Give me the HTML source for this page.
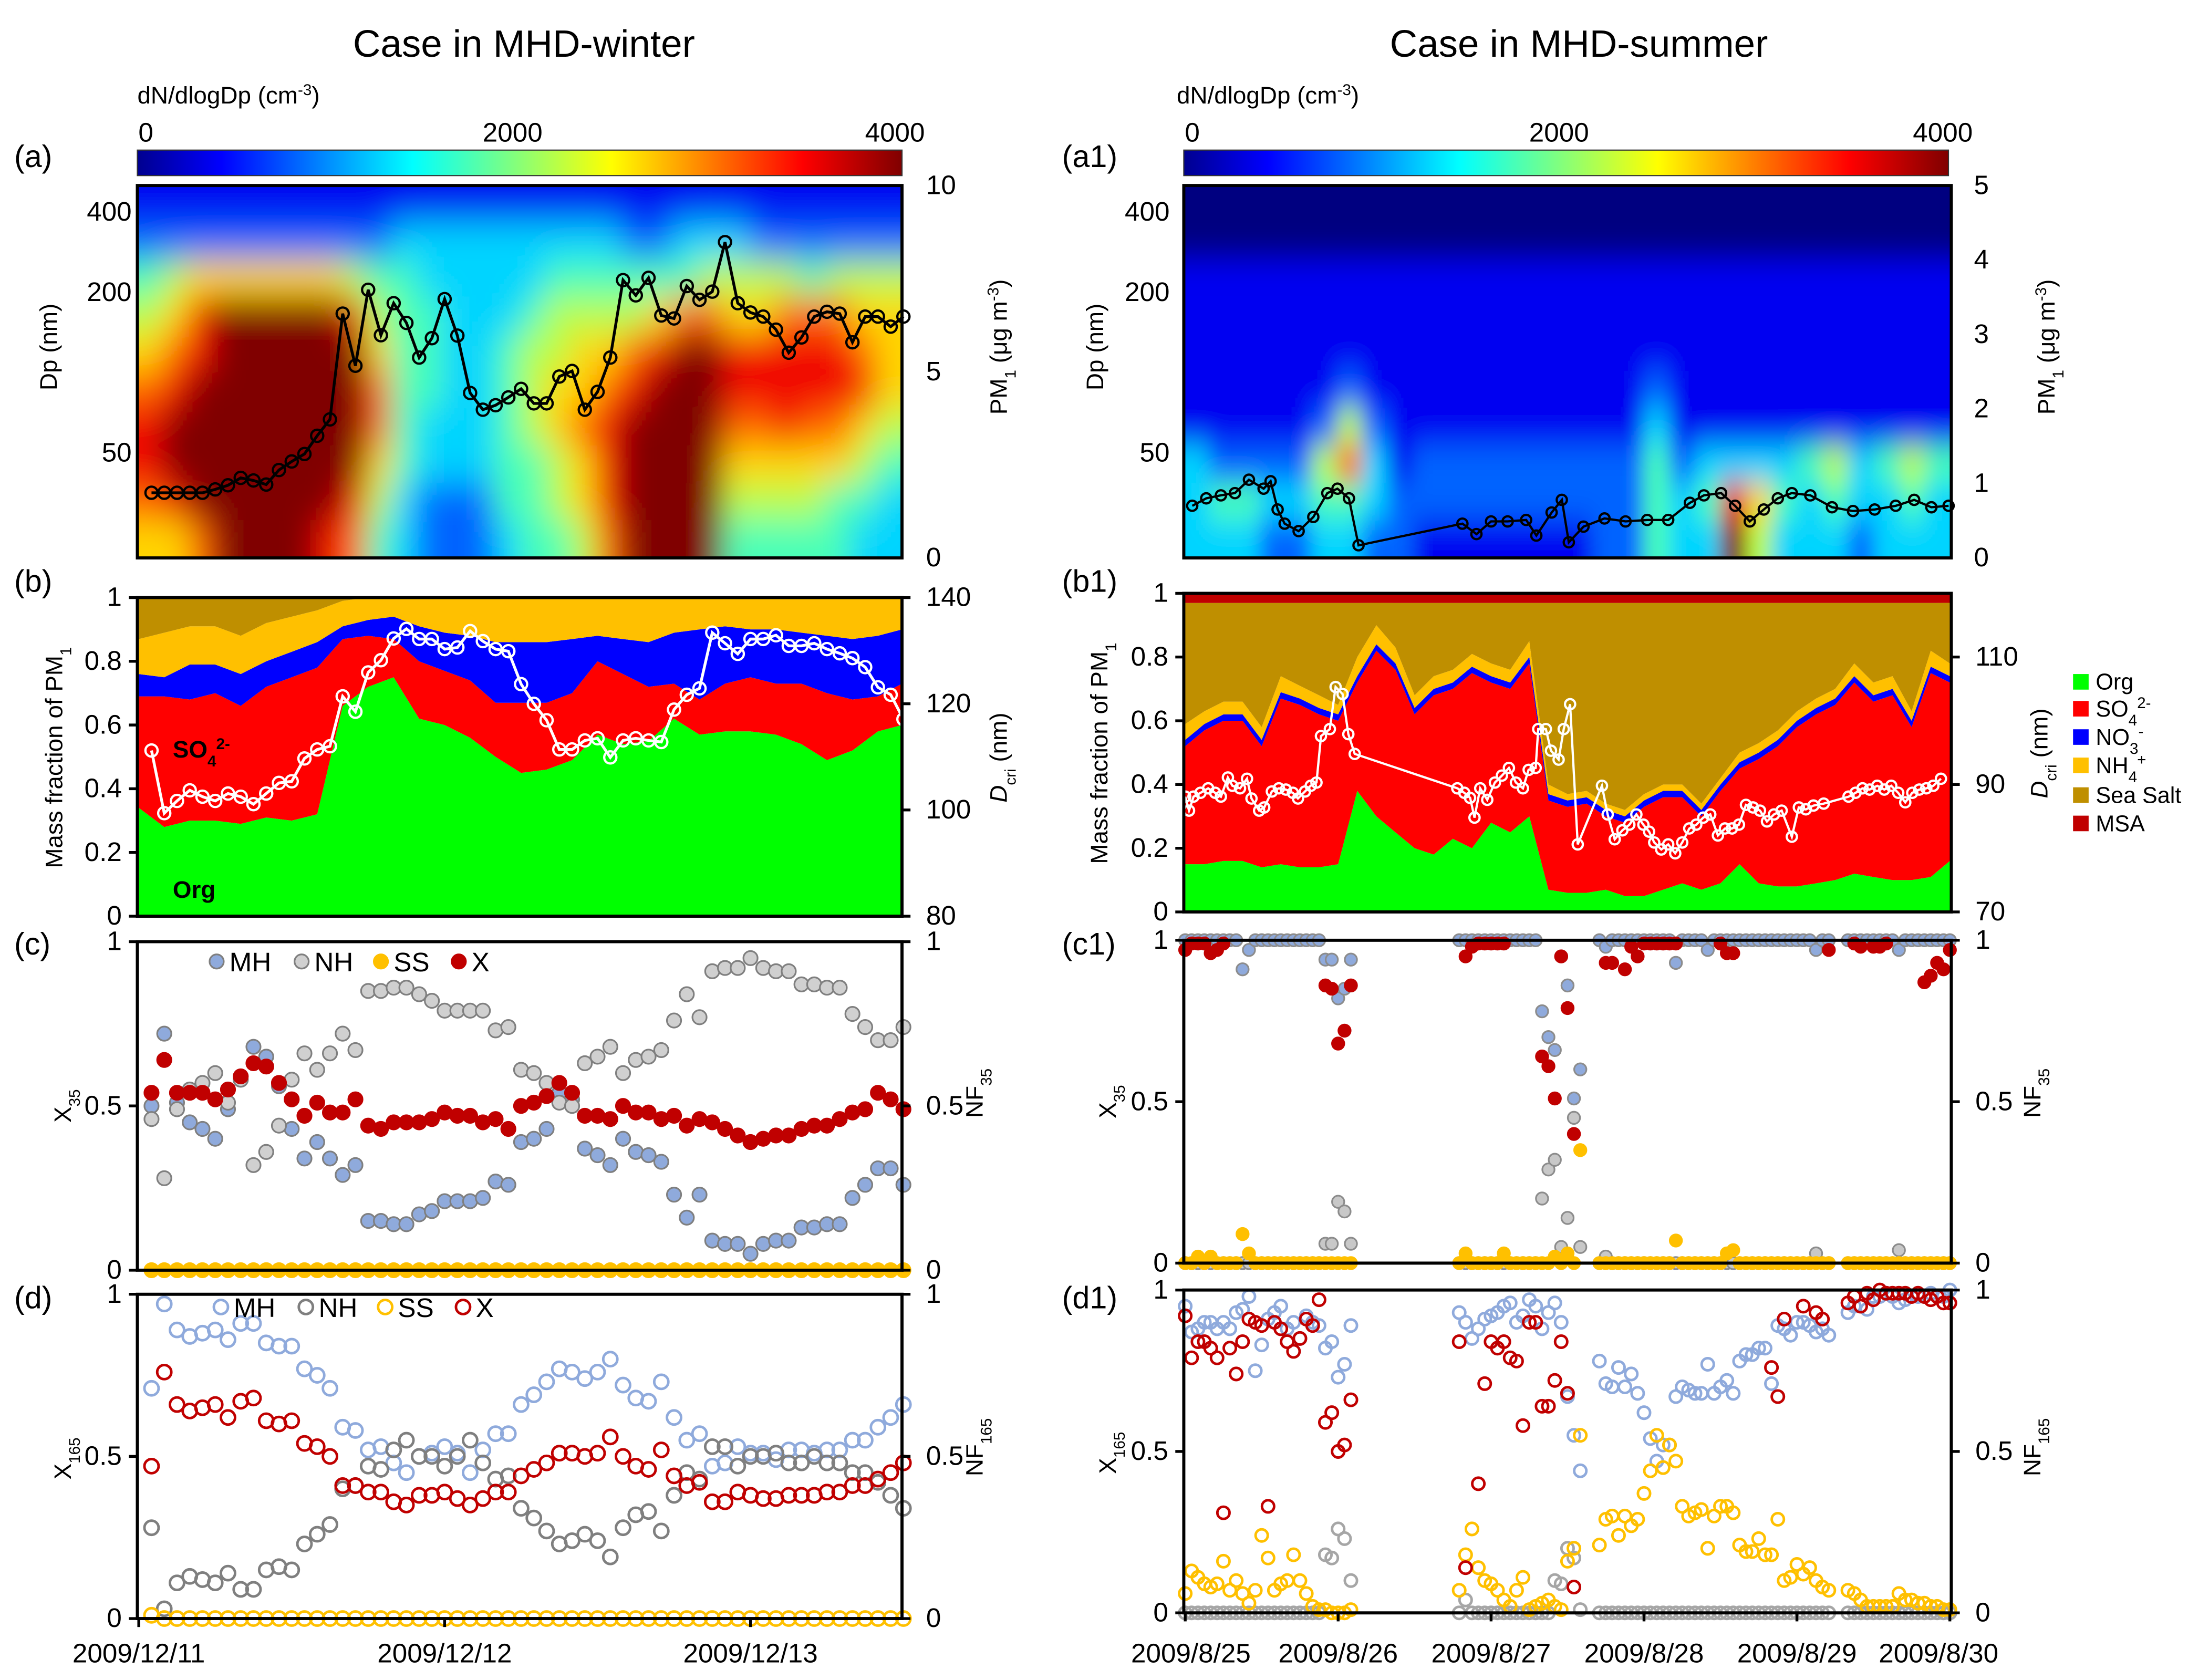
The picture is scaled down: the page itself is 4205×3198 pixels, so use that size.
<!DOCTYPE html>
<html><head><meta charset="utf-8"><style>
html,body{margin:0;padding:0;background:#fff}
svg{display:block;font-family:"Liberation Sans",Arial,sans-serif}
</style></head><body>
<svg id="chart" width="4205" height="3198" viewBox="0 0 1560 1186.4" preserveAspectRatio="none">
<defs>
<linearGradient id="jet" x1="0" x2="1" y1="0" y2="0">
<stop offset="0" stop-color="#00008f"/><stop offset="0.11" stop-color="#0000ff"/><stop offset="0.36" stop-color="#00ffff"/><stop offset="0.62" stop-color="#ffff00"/><stop offset="0.87" stop-color="#ff0000"/><stop offset="1" stop-color="#800000"/>
</linearGradient>
<filter id="blurL" x="-0.2" y="-0.2" width="1.4" height="1.4"><feGaussianBlur stdDeviation="11 13"/></filter>
<filter id="blurR" x="-0.2" y="-0.2" width="1.4" height="1.4"><feGaussianBlur stdDeviation="7 11"/></filter>
<clipPath id="clipL"><rect x="97" y="131" width="540" height="263"/></clipPath>
<clipPath id="clipR"><rect x="836" y="131" width="542" height="263"/></clipPath>
</defs>
<g font-size="27" text-anchor="middle">
<text x="370" y="40">Case in MHD-winter</text>
<text x="1115" y="40">Case in MHD-summer</text>
</g>
<g font-size="22">
<text x="10" y="118">(a)</text>
<text x="10" y="418">(b)</text>
<text x="10" y="674">(c)</text>
<text x="10" y="924">(d)</text>
<text x="750" y="118">(a1)</text>
<text x="750" y="418">(b1)</text>
<text x="750" y="674">(c1)</text>
<text x="750" y="924">(d1)</text>
</g>
<g font-size="17">
<text x="97" y="73">dN/dlogDp (cm<tspan baseline-shift="super" font-size="11">-3</tspan>)</text>
<text x="831" y="73">dN/dlogDp (cm<tspan baseline-shift="super" font-size="11">-3</tspan>)</text>
</g>
<rect x="97" y="106" width="540" height="18" fill="url(#jet)" stroke="#333" stroke-width="0.8"/>
<rect x="836" y="106" width="540" height="18" fill="url(#jet)" stroke="#333" stroke-width="0.8"/>
<g font-size="19" text-anchor="middle">
<text x="103" y="100">0</text>
<text x="362" y="100">2000</text>
<text x="632" y="100">4000</text>
<text x="842" y="100">0</text>
<text x="1101" y="100">2000</text>
<text x="1372" y="100">4000</text>
</g>
<g id="heatL" clip-path="url(#clipL)"><g id="heatLcells" filter="url(#blurL)"></g></g>
<g id="heatR" clip-path="url(#clipR)"><g id="heatRcells" filter="url(#blurR)"></g></g>
<g id="plots"></g>
<g font-size="17" text-anchor="middle">
<text transform="translate(40,245) rotate(-90)">Dp (nm)</text>
<text transform="translate(779,245) rotate(-90)">Dp (nm)</text>
<text transform="translate(711,245) rotate(-90)">PM<tspan baseline-shift="sub" font-size="11">1</tspan> (μg m<tspan baseline-shift="super" font-size="11">-3</tspan>)</text>
<text transform="translate(1451,245) rotate(-90)">PM<tspan baseline-shift="sub" font-size="11">1</tspan> (μg m<tspan baseline-shift="super" font-size="11">-3</tspan>)</text>
<text transform="translate(44,535) rotate(-90)">Mass fraction of PM<tspan baseline-shift="sub" font-size="11">1</tspan></text>
<text transform="translate(782,532) rotate(-90)">Mass fraction of PM<tspan baseline-shift="sub" font-size="11">1</tspan></text>
<text transform="translate(711,535) rotate(-90)"><tspan font-style="italic">D</tspan><tspan baseline-shift="sub" font-size="11">cri</tspan> (nm)</text>
<text transform="translate(1446,532) rotate(-90)"><tspan font-style="italic">D</tspan><tspan baseline-shift="sub" font-size="11">cri</tspan> (nm)</text>
<text transform="translate(50,781) rotate(-90)">X<tspan baseline-shift="sub" font-size="11">35</tspan></text>
<text transform="translate(788,778) rotate(-90)">X<tspan baseline-shift="sub" font-size="11">35</tspan></text>
<text transform="translate(50,1030) rotate(-90)">X<tspan baseline-shift="sub" font-size="11">165</tspan></text>
<text transform="translate(788,1026) rotate(-90)">X<tspan baseline-shift="sub" font-size="11">165</tspan></text>
<text transform="translate(694,772) rotate(-90)">NF<tspan baseline-shift="sub" font-size="11">35</tspan></text>
<text transform="translate(1441,772) rotate(-90)">NF<tspan baseline-shift="sub" font-size="11">35</tspan></text>
<text transform="translate(694,1022) rotate(-90)">NF<tspan baseline-shift="sub" font-size="11">165</tspan></text>
<text transform="translate(1441,1022) rotate(-90)">NF<tspan baseline-shift="sub" font-size="11">165</tspan></text>
</g>
<g font-size="17" font-weight="bold">
<text x="122" y="535">SO<tspan baseline-shift="sub" font-size="11">4</tspan><tspan baseline-shift="super" font-size="11">2-</tspan></text>
<text x="122" y="634">Org</text>
</g>
<g id="legendB1" font-size="16"></g>
</svg>
<script>
// ===== data =====
const leftHeatRows = [
"111111111111111111111111111111",
"222222222233333333322333222222",
"456666665443333344444455554555",
"568999998544333455556776677766",
"678999999644334556678998888876",
"789999999744334566789998888886",
"899999999743334567899997787765",
"899999999643334456899996666654",
"789999998532224456899995555443",
"667999987432223445799994444433"];
const rightHeatRows = [
"000000000000000000000000000000",
"000000000000000000000000000000",
"111111111111111111111111111111",
"111111111111111111111111111111",
"111111111111111111111111111111",
"111111211111111111211111111111",
"111112521111111111311111111111",
"322225731222222222423333453454",
"344334432222222222434864343343",
"333223322111111122433953332333"];

const leftPM1 = [1.75,1.75,1.75,1.75,1.75,1.84,1.95,2.15,2.08,1.97,2.36,2.59,2.79,3.28,3.72,6.56,5.16,7.2,5.98,6.84,6.31,5.38,5.9,6.95,5.97,4.43,3.98,4.1,4.31,4.54,4.15,4.15,4.87,5.02,3.98,4.46,5.38,7.46,7.05,7.52,6.51,6.43,7.3,6.93,7.15,8.48,6.84,6.59,6.48,6.13,5.51,5.92,6.48,6.61,6.56,5.79,6.48,6.48,6.21,6.48];
const leftDcri = [111.2,99.4,101.7,103.7,102.5,101.7,103.1,102.5,101.1,103.1,105.1,105.4,109.7,111.4,112,121.4,118.5,125.9,128.2,132.3,134.1,132.2,132.2,130.3,130.6,133.7,131.8,130.3,129.9,123.7,120,116.9,111.4,111.4,113.1,113.5,109.9,113.1,113.5,113.1,112.8,118.9,121.7,122.9,133.4,131.4,129.4,132.2,132.2,132.9,130.9,130.9,131.4,130.3,129.5,128.6,126.9,123.1,121.7,117.1];

const leftMH35 = [0.50,0.72,0.51,0.45,0.43,0.40,0.49,0.58,0.68,0.65,0.56,0.43,0.34,0.39,0.34,0.29,0.32,0.15,0.15,0.14,0.14,0.17,0.18,0.21,0.21,0.21,0.22,0.27,0.26,0.39,0.40,0.43,0.54,0.52,0.37,0.35,0.32,0.40,0.36,0.35,0.33,0.23,0.16,0.23,0.09,0.08,0.08,0.05,0.08,0.09,0.09,0.13,0.13,0.14,0.14,0.22,0.26,0.31,0.31,0.26];
const leftNH35 = [0.46,0.28,0.49,0.55,0.57,0.60,0.51,0.58,0.32,0.36,0.44,0.58,0.66,0.61,0.66,0.72,0.67,0.85,0.85,0.86,0.86,0.84,0.82,0.79,0.79,0.79,0.79,0.73,0.74,0.61,0.60,0.57,0.51,0.50,0.63,0.65,0.68,0.60,0.64,0.65,0.67,0.76,0.84,0.77,0.91,0.92,0.92,0.95,0.92,0.91,0.91,0.87,0.87,0.86,0.86,0.78,0.74,0.70,0.70,0.74];
const leftSS35 = [0,0,0,0,0,0,0,0,0,0,0,0,0,0,0,0,0,0,0,0,0,0,0,0,0,0,0,0,0,0,0,0,0,0,0,0,0,0,0,0,0,0,0,0,0,0,0,0,0,0,0,0,0,0,0,0,0,0,0,0];
const leftX35 = [0.54,0.64,0.54,0.54,0.54,0.52,0.55,0.59,0.63,0.62,0.57,0.52,0.47,0.51,0.48,0.48,0.52,0.44,0.43,0.45,0.45,0.45,0.46,0.48,0.47,0.47,0.45,0.46,0.43,0.50,0.51,0.53,0.57,0.54,0.47,0.47,0.46,0.50,0.48,0.48,0.46,0.47,0.44,0.46,0.45,0.43,0.41,0.39,0.40,0.41,0.41,0.43,0.44,0.44,0.46,0.48,0.49,0.54,0.52,0.49];

const leftMH165 = [0.71,0.97,0.89,0.87,0.88,0.89,0.86,0.91,0.91,0.85,0.84,0.84,0.77,0.75,0.71,0.59,0.58,0.52,0.53,0.48,0.45,0.50,0.51,0.53,0.51,0.45,0.52,0.57,0.57,0.66,0.69,0.73,0.77,0.76,0.74,0.76,0.80,0.72,0.68,0.67,0.73,0.62,0.55,0.57,0.47,0.48,0.53,0.51,0.51,0.49,0.52,0.52,0.51,0.52,0.52,0.55,0.55,0.59,0.62,0.66];
const leftNH165 = [0.28,0.03,0.11,0.13,0.12,0.11,0.14,0.09,0.09,0.15,0.16,0.15,0.23,0.26,0.29,0.40,0.41,0.47,0.46,0.52,0.55,0.50,0.50,0.47,0.50,0.55,0.48,0.43,0.44,0.34,0.31,0.27,0.23,0.24,0.26,0.24,0.19,0.28,0.32,0.33,0.27,0.38,0.45,0.43,0.53,0.53,0.47,0.50,0.50,0.51,0.48,0.48,0.50,0.48,0.48,0.45,0.45,0.42,0.38,0.34];
const leftSS165 = [0.01,0,0,0,0,0,0,0,0,0,0,0,0,0,0,0,0,0,0,0,0,0,0,0,0,0,0,0,0,0,0,0,0,0,0,0,0,0,0,0,0,0,0,0,0,0,0,0,0,0,0,0,0,0,0,0,0,0,0,0];
const leftX165 = [0.47,0.76,0.66,0.64,0.65,0.66,0.62,0.67,0.68,0.61,0.60,0.61,0.54,0.53,0.50,0.41,0.41,0.39,0.39,0.36,0.35,0.38,0.38,0.39,0.37,0.35,0.37,0.39,0.39,0.44,0.46,0.48,0.51,0.51,0.50,0.51,0.56,0.50,0.47,0.46,0.52,0.44,0.41,0.42,0.36,0.36,0.39,0.38,0.37,0.37,0.38,0.38,0.38,0.39,0.39,0.41,0.41,0.43,0.45,0.48];

const leftOrg = [.34,.28,.30,.30,.29,.31,.30,.32,.66,.72,.75,.62,.60,.56,.50,.45,.46,.49,.57,.54,.55,.62,.57,.58,.58,.57,.54,.49,.52,.58,.60];
const leftSO4 = [.35,.41,.38,.40,.37,.41,.45,.46,.21,.16,.12,.18,.17,.18,.17,.22,.21,.21,.23,.22,.17,.11,.11,.15,.17,.16,.19,.21,.16,.11,.13];
const leftNO3 = [.07,.06,.11,.09,.10,.08,.08,.08,.04,.05,.07,.11,.12,.14,.19,.19,.19,.17,.08,.11,.14,.16,.22,.18,.15,.17,.16,.18,.19,.19,.17];
const leftNH4 = [.11,.14,.12,.12,.12,.12,.11,.10,.08,.07,.06,.09,.11,.12,.14,.14,.14,.13,.12,.13,.14,.11,.10,.09,.10,.10,.11,.12,.13,.12,.10];
const leftSeaSalt = [.13,.11,.09,.09,.12,.08,.06,.04,.01,0,0,0,0,0,0,0,0,0,0,0,0,0,0,0,0,0,0,0,0,0,0];
const leftMSA = [0,0,0,0,0,0,0,0,0,0,0,0,0,0,0,0,0,0,0,0,0,0,0,0,0,0,0,0,0,0,0];

const rightOrg = [.15,.15,.16,.16,.14,.15,.14,.14,.15,.38,.30,.25,.20,.18,.23,.20,.28,.25,.30,.07,.06,.06,.07,.05,.05,.07,.09,.07,.09,.15,.09,.08,.08,.09,.10,.12,.11,.10,.10,.11,.16];
const rightSO4 = [.37,.42,.44,.44,.38,.52,.51,.48,.45,.34,.52,.51,.42,.50,.47,.55,.44,.45,.48,.28,.27,.28,.23,.23,.28,.29,.27,.23,.29,.30,.39,.44,.50,.53,.55,.60,.55,.58,.48,.64,.56];
const rightNO3 = [.02,.02,.02,.02,.02,.02,.02,.02,.02,.02,.02,.02,.02,.02,.02,.02,.02,.02,.02,.02,.02,.02,.02,.02,.02,.02,.02,.02,.02,.02,.02,.02,.02,.02,.02,.02,.02,.02,.02,.02,.02];
const rightNH4 = [.05,.04,.04,.04,.04,.05,.04,.04,.03,.06,.06,.05,.04,.04,.04,.04,.04,.04,.05,.03,.02,.02,.02,.02,.02,.02,.02,.02,.02,.03,.03,.03,.03,.03,.03,.04,.04,.04,.03,.05,.04];
const rightSeaSalt = [.38,.34,.31,.31,.39,.23,.26,.29,.32,.17,.07,.14,.29,.23,.21,.16,.19,.21,.12,.57,.60,.59,.63,.65,.60,.57,.57,.63,.55,.47,.44,.40,.34,.30,.27,.19,.25,.23,.34,.15,.19];
const rightMSA = [.03,.03,.03,.03,.03,.03,.03,.03,.03,.03,.03,.03,.03,.03,.03,.03,.03,.03,.03,.03,.03,.03,.03,.03,.03,.03,.03,.03,.03,.03,.03,.03,.03,.03,.03,.03,.03,.03,.03,.03,.03];

const rightPM1Hours = [1.1,3.3,5.6,7.8,10.0,12.3,13.4,14.5,15.6,17.8,20.1,22.3,23.9,25.7,27.2,43.5,45.7,48.0,50.6,53.5,55.1,57.5,59.1,60.2,62.5,65.8,69.1,72.5,75.8,79.2,81.4,84.1,86.3,88.6,90.8,93.0,95.2,98.1,101.5,104.8,108.2,111.5,114.4,117.1,119.8];
const rightPM1 = [0.70,0.80,0.84,0.87,1.05,0.93,1.03,0.65,0.46,0.36,0.55,0.87,0.93,0.80,0.17,0.46,0.32,0.49,0.49,0.51,0.30,0.61,0.78,0.21,0.42,0.53,0.49,0.51,0.51,0.74,0.84,0.87,0.70,0.49,0.65,0.80,0.87,0.84,0.68,0.63,0.65,0.70,0.78,0.68,0.70];

const rightDcriHours = [0,0.6,1.3,2.4,3.6,4.7,5.6,6.7,7.4,8.6,9.7,10.4,11.6,12.4,13.6,14.7,15.8,16.9,17.7,18.8,19.7,20.6,21.3,22.7,23.6,24.7,25.6,26.6,42.7,43.8,44.7,45.4,46.3,47.4,48.6,49.7,50.8,51.9,53.0,53.9,55.0,55.4,56.6,57.4,58.6,59.4,60.4,61.6,65.4,66.3,67.4,68.6,69.7,70.8,71.9,72.8,73.6,74.7,75.8,76.9,78.0,79.1,80.2,81.3,82.4,83.6,84.7,85.8,86.9,88.0,89.1,90.2,91.3,92.4,93.6,95.2,96.3,97.4,98.6,100.2,104.1,105.2,106.3,107.4,108.6,109.7,110.8,111.9,113.0,114.1,115.2,116.3,117.4,118.6];
const rightDcri = [88.1,85.9,88.1,88.7,89.4,88.7,88.1,91.1,89.8,89.4,90.9,87.8,85.9,86.4,88.9,89.4,89.2,88.7,87.8,88.9,89.8,90.3,97.6,98.7,105.3,104.2,97.9,94.8,89.4,88.7,87.9,84.8,89.4,87.6,90.3,91.4,92.6,90.3,89.4,92.3,92.6,98.7,98.7,95.3,93.9,98.7,102.6,80.6,89.8,85.3,81.4,82.8,83.7,85.3,83.7,82.6,80.9,79.8,80.6,79.2,80.9,83.1,83.7,84.8,85.3,82.0,83.1,83.1,83.7,86.8,86.4,85.9,84.2,85.3,85.9,81.8,86.4,86.1,86.7,87.0,88.1,88.7,89.4,89.2,89.8,89.2,89.8,88.7,87.2,88.7,89.2,89.4,89.8,90.9];

const rightSegments = [[0,26],[43,62],[65,101],[104,120]];
const N = null;
const rightMH35 = [1,1,1,1,1,1,1,1,1,.91,.97,1,1,1,1,1,1,1,1,1,1,1,.94,.94,.82,.85,.94,
 1,1,1,1,1,1,1,1,1,1,1,1,1,.78,.70,.66,.95,.86,.51,.60,
 1,.98,1,1,1,1,1,1,1,1,1,1,.93,1,1,1,1,.97,1,1,1,1,1,1,1,1,1,1,1,1,1,1,1,1,.97,1,1,
 1,1,1,1,1,1,1,1,.97,1,1,1,1,1,1,1,1];
const rightNH35 = [0,0,0,0,0,0,0,0,0,0,0,0,0,0,0,0,0,0,0,0,0,0,.06,.06,.19,.16,.06,
 0,0,0,0,0,0,0,0,0,0,0,0,0,.20,.29,.32,.05,.14,.45,.05,
 0,.02,0,0,0,0,0,0,0,0,0,0,0,0,0,0,0,0,0,0,0,0,0,0,0,0,0,0,0,0,0,0,0,0,.03,0,0,
 0,0,0,0,0,0,0,0,.04,0,0,0,0,0,0,0,0];
const rightSS35 = [0,0,.02,0,.02,0,0,0,0,.09,.03,0,0,0,0,0,0,0,0,0,0,0,0,0,0,0,0,
 0,.03,0,0,0,0,0,.03,0,0,0,0,0,0,0,.02,0,.03,0,.35,
 0,0,0,0,0,0,0,0,0,0,0,0,.07,0,0,0,0,0,0,0,.03,.04,0,0,0,0,0,0,0,0,0,0,0,0,0,0,0,
 0,0,0,0,0,0,0,0,0,0,0,0,0,0,0,0,0];
const rightX35 = [.97,.99,.99,.99,.96,.97,.99,N,N,N,N,N,N,N,N,N,N,N,N,N,N,N,.86,.85,.68,.72,.86,
 N,.95,.98,.99,.99,.99,.99,.99,N,N,N,N,N,.64,.61,.51,.95,.79,.40,N,
 N,.93,.93,N,.91,.98,.95,.99,.99,.99,.99,.99,.99,N,N,N,N,N,N,.99,.96,.96,N,N,N,N,N,N,N,N,N,N,N,N,N,N,.97,
 N,.99,.98,N,.98,.98,.99,N,N,N,N,N,.87,.89,.93,.91,.97];

const rightMH165 = [.95,.87,.88,.90,.90,.88,.90,.88,.93,.94,.98,.75,.83,.91,.93,.95,.88,.90,.85,.92,.90,.89,.82,.84,.73,.77,.89,
 .93,.90,.85,.88,.91,.92,.93,.95,.96,.90,.92,.97,.95,.88,.93,.96,.90,.67,.55,.44,
 .78,.71,.70,.76,.70,.74,.68,.62,.54,.47,.52,.52,.67,.70,.69,.68,.68,.77,.68,.70,.72,.68,.78,.80,.80,.82,.82,.71,.89,.88,.86,.90,.90,.89,.87,.88,.86,
 .93,.95,.95,.94,.98,.98,.99,.98,.96,.97,.98,.98,.98,.99,.98,.98,1.0];
const rightNH165 = [0,0,0,0,0,0,0,0,0,0,0,0,0,0,0,0,0,0,0,0,0,0,.18,.17,.26,.23,.10,
 0,.04,0,0,0,0,0,0,0,0,0,0,0,0,0,.10,.09,.20,.17,.01,
 0,0,0,0,0,0,0,0,0,0,0,0,0,0,0,0,0,0,0,0,0,0,0,0,0,0,0,0,0,0,0,0,0,0,0,0,0,
 0,0,0,0,0,0,0,0,0,0,0,0,0,0,0,0,0];
const rightSS165 = [.06,.13,.11,.09,.08,.09,.16,.07,.10,.06,.03,.07,.24,.17,.07,.09,.10,.18,.10,.06,.02,.01,.01,0,0,0,.01,
 .07,.18,.26,.14,.10,.09,.07,.04,.02,.07,.11,.01,.02,.03,.04,.02,.01,.16,.20,.55,
 .21,.29,.30,.24,.30,.27,.29,.37,.44,.55,.45,.52,.47,.33,.30,.31,.32,.20,.30,.33,.33,.31,.21,.19,.19,.23,.18,.18,.29,.10,.11,.15,.12,.14,.10,.08,.07,
 .07,.06,.04,.02,.02,.02,.02,.02,.06,.04,.04,.03,.03,.02,.02,.01,.01];
const rightX165 = [.92,.79,.84,.84,.82,.79,.31,.82,.74,.84,.91,.90,.89,.33,.90,.88,.84,.81,.85,.91,.89,.97,.59,.62,.50,.52,.66,
 .84,.14,N,.40,.71,.84,.82,.84,.79,.78,.58,.90,.90,.64,.64,.72,.84,.68,.08,N,
 N,N,N,N,N,N,N,N,N,N,N,N,N,N,N,N,N,N,N,N,N,N,N,N,N,N,N,.76,.67,.91,N,N,.95,N,.93,.91,N,
 .96,.98,.95,.99,.97,1,.99,.99,.99,.99,.98,.99,.98,.97,.98,.96,.96];

const legendNames = ["Org","SO4","NO3","NH4","Sea Salt","MSA"];
const legendColors = ["#00ff00","#ff0000","#0000ff","#ffc000","#bf8f00","#c00000"];

// ===== drawing =====
const NS = 'http://www.w3.org/2000/svg';
const svg = document.getElementById('chart');
const plots = document.getElementById('plots');
function mk(tag, attrs, parent){ const e=document.createElementNS(NS,tag); for(const k in attrs) e.setAttribute(k, attrs[k]); (parent||plots).appendChild(e); return e; }
function jet(v){ const c=x=>Math.round(255*Math.max(0,Math.min(1,x))); return 'rgb('+c(1.5-Math.abs(4*v-3))+','+c(1.5-Math.abs(4*v-2))+','+c(1.5-Math.abs(4*v-1))+')'; }

const LX0=97, LX1=637, RX0=836, RX1=1378;
const xL = h => 98 + 9.0*h;
const xR = h => 837 + 4.5*h;
const lin = (v0,v1,p0,p1) => v => p0 + (v - v0)/(v1 - v0)*(p1 - p0);
const L = {pm:lin(0,10,394,131), fr:lin(0,1,647,422), dc:lin(80,140,647,422), c:lin(0,1,897,665), d:lin(0,1,1143,914)};
const R = {pm:lin(0,5,394,131), fr:lin(0,1,644,419), dc:lin(70,120,644,419), c:lin(0,1,892,664), d:lin(0,1,1139,911)};

function heat(rows, parentId, x0, w, name){
  const g=document.getElementById(parentId);
  const nr=rows.length, rh=263/nr, pad=40;
  rows.forEach((row,r)=>{
    const s=row.padEnd(30,row[row.length-1]).slice(0,30);
    for(let c=0;c<30;c++){
      let x=x0+c*w-0.5, y=131+r*rh-0.5, ww=w+1, hh=rh+1;
      if(c===0){x-=pad; ww+=pad;}
      if(c===29){ww+=pad;}
      if(r===0){y-=pad; hh+=pad;}
      if(r===nr-1){hh+=pad;}
      const cell=mk('rect',{x:x,y:y,width:ww,height:hh,fill:jet(+s[c]/9)},g);
      
      
    }
  });
}
heat(leftHeatRows,'heatLcells',LX0,18,'heatmap-winter');
heat(rightHeatRows,'heatRcells',RX0,542/30,'heatmap-summer');

function frame(x0,y0,x1,y1,name){ const f=mk('rect',{x:x0,y:y0,width:x1-x0,height:y1-y0,fill:'none',stroke:'#000','stroke-width':2.2});   }
function ticks(xAxis, side, vals, scale, labels, name){
  vals.forEach((v,i)=>{
    const y=scale(v);
    const t=mk('line',{x1:xAxis,x2:xAxis+(side<0?-6:6),y1:y,y2:y,stroke:'#000','stroke-width':2});
    
    
    const tx=mk('text',{x:side<0?xAxis-11:xAxis+17,y:y+6,'font-size':19,'text-anchor':side<0?'end':'start'});
    tx.textContent=labels[i];
    
    
  });
}
function textAt(x,y,s,anchor,name,size){ const t=mk('text',{x:x,y:y,'font-size':size||19,'text-anchor':anchor}); t.textContent=s;   return t; }

const dpY = d => 320 - Math.log2(d/50)*56.7;
[[400,'400'],[200,'200'],[50,'50']].forEach(p=>textAt(93,dpY(p[0])+6,p[1],'end','dp-tick-label'));
[[400,'400'],[200,'200'],[50,'50']].forEach(p=>textAt(826,dpY(p[0])+6,p[1],'end','dp-tick-label-right'));
[0,5,10].forEach(v=>textAt(654,L.pm(v)+6,String(v),'start','pm1-tick-label'));
[0,1,2,3,4,5].forEach(v=>textAt(1394,R.pm(v)+6,String(v),'start','pm1-tick-label-right'));

function stack(series, hoursStep, xf, yf, names, colors, prefix){
  const n=series[0].length; let base=new Array(n).fill(0);
  series.forEach((s,k)=>{
    const top=base.map((b,i)=>b+s[i]);
    let pts=[];
    for(let i=0;i<n;i++) pts.push(xf(i*hoursStep).toFixed(1)+','+yf(Math.min(1,top[i])).toFixed(1));
    for(let i=n-1;i>=0;i--) pts.push(xf(i*hoursStep).toFixed(1)+','+yf(Math.min(1,base[i])).toFixed(1));
    const p=mk('polygon',{points:pts.join(' '),fill:colors[k]});
    
    
    base=top;
  });
}
stack([leftOrg,leftSO4,leftNO3,leftNH4,leftSeaSalt,leftMSA],2,h=>Math.min(LX1,Math.max(LX0,xL(h))),L.fr,legendNames,legendColors,'winter');
stack([rightOrg,rightSO4,rightNO3,rightNH4,rightSeaSalt,rightMSA],3,h=>Math.min(RX1,Math.max(RX0,xR(h))),R.fr,legendNames,legendColors,'summer');

function lineMarkers(hours, vals, xf, yf, color, name, r, sw){
  const pts=hours.map((h,i)=>xf(h).toFixed(1)+','+yf(vals[i]).toFixed(1)).join(' ');
  const pl=mk('polyline',{points:pts,fill:'none',stroke:color,'stroke-width':sw});
  
  
  hours.forEach((h,i)=>{
    const c=mk('circle',{cx:xf(h),cy:yf(vals[i]),r:r,fill:'none',stroke:color,'stroke-width':1.6});
    
    
  });
}
const leftHours = leftPM1.map((v,i)=>i+1);
lineMarkers(leftHours,leftPM1,xL,L.pm,'#000','pm1-winter',4.3,2);
lineMarkers(leftHours,leftDcri,xL,L.dc,'#fff','dcri-winter',4.3,2);
lineMarkers(rightPM1Hours,rightPM1,xR,R.pm,'#000','pm1-summer',3.6,1.6);
lineMarkers(rightDcriHours,rightDcri,xR,R.dc,'#fff','dcri-summer',3.6,1.6);

function scatter(hours, vals, xf, yf, fill, stroke, r, name){
  hours.forEach((h,i)=>{
    if(vals[i]===null) return;
    const c=mk('circle',{cx:xf(h),cy:yf(vals[i]),r:r,fill:fill,stroke:stroke,'stroke-width':fill==='none'?1.8:1.2});
    
    
  });
}
const rightHours=[]; rightSegments.forEach(s=>{for(let h=s[0];h<=s[1];h++) rightHours.push(h);});
scatter(leftHours,leftMH35,xL,L.c,'#8faadc','#7f7f7f',5,'mh35-winter');
scatter(leftHours,leftNH35,xL,L.c,'#d0d0d0','#7f7f7f',5,'nh35-winter');
scatter(leftHours,leftSS35,xL,L.c,'#ffc000','#ffc000',5,'ss35-winter');
scatter(leftHours,leftX35,xL,L.c,'#c00000','#c00000',5,'x35-winter');
scatter(leftHours,leftMH165,xL,L.d,'none','#8faadc',5,'mh165-winter');
scatter(leftHours,leftNH165,xL,L.d,'none','#7f7f7f',5,'nh165-winter');
scatter(leftHours,leftSS165,xL,L.d,'none','#ffc000',5,'ss165-winter');
scatter(leftHours,leftX165,xL,L.d,'none','#c00000',5,'x165-winter');
scatter(rightHours,rightMH35,xR,R.c,'#8faadc','#8c8c8c',4.3,'mh35-summer');
scatter(rightHours,rightNH35,xR,R.c,'#c8c8c8','#8c8c8c',4.3,'nh35-summer');
scatter(rightHours,rightSS35,xR,R.c,'#ffc000','#ffc000',4.3,'ss35-summer');
scatter(rightHours,rightX35,xR,R.c,'#c00000','#c00000',4.3,'x35-summer');
scatter(rightHours,rightNH165,xR,R.d,'none','#a6a6a6',4.3,'nh165-summer');
scatter(rightHours,rightMH165,xR,R.d,'none','#8faadc',4.3,'mh165-summer');
scatter(rightHours,rightSS165,xR,R.d,'none','#ffc000',4.3,'ss165-summer');
scatter(rightHours,rightX165,xR,R.d,'none','#c00000',4.3,'x165-summer');

frame(LX0,131,LX1,394,'heatmap-winter-frame');
frame(RX0,131,RX1,394,'heatmap-summer-frame');
frame(LX0,422,LX1,647,'fraction-winter-frame');
frame(RX0,419,RX1,644,'fraction-summer-frame');
frame(LX0,665,LX1,897,'x35-winter-frame');
frame(RX0,664,RX1,892,'x35-summer-frame');
frame(LX0,914,LX1,1143,'x165-winter-frame');
frame(RX0,911,RX1,1139,'x165-summer-frame');

ticks(LX0,-1,[0,.2,.4,.6,.8,1],L.fr,['0','0.2','0.4','0.6','0.8','1'],'fraction-y');
ticks(LX1,1,[80,100,120,140],L.dc,['80','100','120','140'],'dcri-y');
ticks(RX0,-1,[0,.2,.4,.6,.8,1],R.fr,['0','0.2','0.4','0.6','0.8','1'],'fraction-y-right');
ticks(RX1,1,[70,90,110],R.dc,['70','90','110'],'dcri-y-right');
ticks(LX0,-1,[0,.5,1],L.c,['0','0.5','1'],'x35-y');
ticks(LX1,1,[0,.5,1],L.c,['0','0.5','1'],'nf35-y');
ticks(RX0,-1,[0,.5,1],R.c,['0','0.5','1'],'x35-y-right');
ticks(RX1,1,[0,.5,1],R.c,['0','0.5','1'],'nf35-y-right');
ticks(LX0,-1,[0,.5,1],L.d,['0','0.5','1'],'x165-y');
ticks(LX1,1,[0,.5,1],L.d,['0','0.5','1'],'nf165-y');
ticks(RX0,-1,[0,.5,1],R.d,['0','0.5','1'],'x165-y-right');
ticks(RX1,1,[0,.5,1],R.d,['0','0.5','1'],'nf165-y-right');

const leftDates=['2009/12/11','2009/12/12','2009/12/13'];
leftDates.forEach((d,i)=>{ const x=xL(24*i); const t=mk('line',{x1:x,x2:x,y1:1143,y2:1149,stroke:'#000','stroke-width':2});   textAt(x,1174,d,'middle','date-label'); });
const rightDates=['2009/8/25','2009/8/26','2009/8/27','2009/8/28','2009/8/29','2009/8/30'];
rightDates.forEach((d,i)=>{ const x=xR(24*i); const t=mk('line',{x1:x,x2:x,y1:1139,y2:1145,stroke:'#000','stroke-width':2});   textAt(x+(i===0?4:(i===5?-8:0)),1174,d,'middle','date-label-right'); });

const legNames=['MH','NH','SS','X'];
const legFill=['#8faadc','#d0d0d0','#ffc000','#c00000'];
const legStrokeC=['#7f7f7f','#7f7f7f','#ffc000','#c00000'];
const legStrokeD=['#8faadc','#7f7f7f','#ffc000','#c00000'];
const legX=[153,213,269,324];
legNames.forEach((n,i)=>{
  const c=mk('circle',{cx:legX[i],cy:679,r:5,fill:legFill[i],stroke:legStrokeC[i],'stroke-width':1.2});
  
  
  textAt(legX[i]+9,686,n,'start','legend-label-c-'+n.toLowerCase(),19);
  const d=mk('circle',{cx:legX[i]+3,cy:923,r:5,fill:'none',stroke:legStrokeD[i],'stroke-width':1.8});
  
  
  textAt(legX[i]+12,930,n,'start','legend-label-d-'+n.toLowerCase(),19);
});

const lg=document.getElementById('legendB1');
const legY=[486,505,525,545,566,586];
const legHTML=['Org','SO<tspan baseline-shift="sub" font-size="11">4</tspan><tspan baseline-shift="super" font-size="11">2-</tspan>','NO<tspan baseline-shift="sub" font-size="11">3</tspan><tspan baseline-shift="super" font-size="11">-</tspan>','NH<tspan baseline-shift="sub" font-size="11">4</tspan><tspan baseline-shift="super" font-size="11">+</tspan>','Sea Salt','MSA'];
legendNames.forEach((n,i)=>{
  const r=mk('rect',{x:1464,y:legY[i]-10,width:11,height:11,fill:legendColors[i]},lg);
  
  
  const t=mk('text',{x:1480,y:legY[i]+1},lg);
  t.innerHTML=legHTML[i];
  
  
});
</script>
</body></html>
